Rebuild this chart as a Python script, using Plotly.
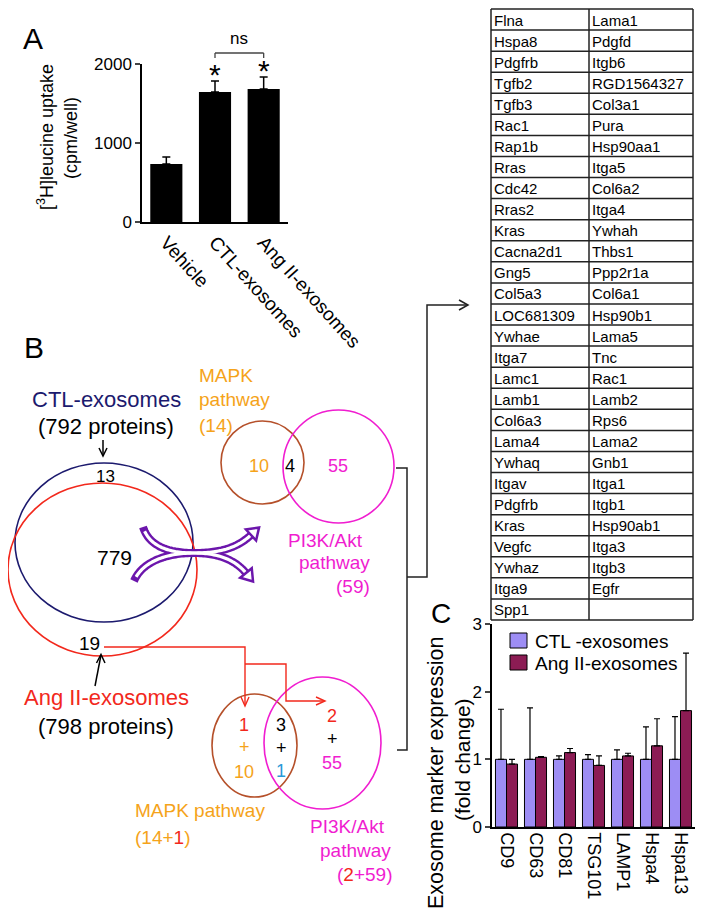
import numpy as np
import plotly.graph_objects as go

W, H = 704, 913
OX, OY = 8, 8   # page body margin: figure origin sits at (8, 8) on screen
FONT = "Arial, Liberation Sans, sans-serif"

# ---------------- Panel A data ----------------
a_groups = ["Vehicle", "CTL-exosomes", "Ang II-exosomes"]
a_means = [734, 1646, 1684]
a_err = [89, 139, 151]
a_ticks = [0, 1000, 2000]
a_sig = ["", "*", "*"]

# ---------------- Panel C data ----------------
c_markers = ["CD9", "CD63", "CD81", "TSG101", "LAMP1", "Hspa4", "Hspa13"]
c_ctl = [1.0, 1.0, 1.0, 1.0, 1.0, 1.0, 1.0]
c_ctl_err = [0.74, 0.76, 0.05, 0.07, 0.14, 0.48, 0.63]
c_ang = [0.93, 1.03, 1.10, 0.91, 1.05, 1.20, 1.72]
c_ang_err = [0.07, 0.01, 0.06, 0.14, 0.04, 0.40, 0.85]
c_ticks = [0, 1, 2, 3]
c_series = ["CTL -exosomes", "Ang II-exosomes"]

# ---------------- Table data ----------------
tbl_col1 = ["Flna", "Hspa8", "Pdgfrb", "Tgfb2", "Tgfb3", "Rac1", "Rap1b", "Rras",
            "Cdc42", "Rras2", "Kras", "Cacna2d1", "Gng5", "Col5a3", "LOC681309",
            "Ywhae", "Itga7", "Lamc1", "Lamb1", "Col6a3", "Lama4", "Ywhaq", "Itgav",
            "Pdgfrb", "Kras", "Vegfc", "Ywhaz", "Itga9", "Spp1"]
tbl_col2 = ["Lama1", "Pdgfd", "Itgb6", "RGD1564327", "Col3a1", "Pura", "Hsp90aa1",
            "Itga5", "Col6a2", "Itga4", "Ywhah", "Thbs1", "Ppp2r1a", "Col6a1",
            "Hsp90b1", "Lama5", "Tnc", "Rac1", "Lamb2", "Rps6", "Lama2", "Gnb1",
            "Itga1", "Itgb1", "Hsp90ab1", "Itga3", "Itgb3", "Egfr", ""]

# ---------------- Venn data ----------------
ctl_total = 792
ang_total = 798
ctl_only = 13
shared = 779
ang_only = 19
mapk_total = 14
pi3k_total = 59
mapk_only = 10
mapk_pi3k = 4
pi3k_only = 55
new_mapk = 1
new_pi3k = 2
new_both = 3
new_both_extra = 1

# colors
NAVY = "#1c1a6e"
RED = "#f2281c"
ORANGE = "#f5a31a"
BROWN = "#b5502a"
MAG = "#f01dd0"
BLUE = "#2a9ad8"
PURP = "#6c16ac"
CTL_C = "#9d8df4"
ANG_C = "#8c1c54"


def fx(sx):
    return (sx - OX) / W


def fy(sy):
    return 1 - (sy - OY) / H


fig = go.Figure()

# Panel A bars
fig.add_trace(go.Bar(
    x=a_groups, y=a_means, width=0.66,
    marker=dict(color="black", line=dict(width=0)),
    error_y=dict(type="data", array=a_err, arrayminus=[0] * len(a_err), symmetric=False,
                 color="black", thickness=1.5, width=4),
    xaxis="x", yaxis="y", showlegend=False, hoverinfo="skip"))

# Panel C bars
for name, vals, errs, col, og in [(c_series[0], c_ctl, c_ctl_err, CTL_C, "a"),
                                  (c_series[1], c_ang, c_ang_err, ANG_C, "b")]:
    fig.add_trace(go.Bar(
        x=c_markers, y=vals, name=name, showlegend=False,
        marker=dict(color=col, line=dict(color="black", width=1)),
        error_y=dict(type="data", array=errs, arrayminus=[0] * len(errs), symmetric=False,
                     color="black", thickness=1.2, width=3),
        xaxis="x2", yaxis="y2", offsetgroup=og, hoverinfo="skip"))

# overlay axis in screen-pixel units for the diagram
fig.add_trace(go.Scatter(x=[100], y=[100], mode="markers", marker=dict(opacity=0),
                         xaxis="x3", yaxis="y3", showlegend=False, hoverinfo="skip"))

shapes = []
ann = []


def txt(x, y, s, size, color="black", xanchor="center", **kw):
    ann.append(dict(x=x, y=y, xref="x3", yref="y3", text=s, showarrow=False,
                    xanchor=xanchor, yanchor=kw.pop("yanchor", "middle"),
                    font=dict(family=FONT, size=size, color=color), **kw))


def line_path(pts, color, width=1.5):
    d = "M " + " L ".join(f"{x:.2f},{y:.2f}" for x, y in pts)
    shapes.append(dict(type="path", path=d, xref="x3", yref="y3",
                       line=dict(color=color, width=width)))


def circle(x0, y0, x1, y1, color, width=1.6):
    shapes.append(dict(type="circle", x0=x0, y0=y0, x1=x1, y1=y1, xref="x3", yref="y3",
                       line=dict(color=color, width=width)))


# ---- Panel labels
txt(33, 38, "A", 30)
txt(34, 347, "B", 30)
txt(441, 613, "C", 28)

# ---- Panel A annotations
txt(45, 137, "[<sup>3</sup>H]leucine uptake", 18, textangle=-90)
txt(71, 138, "(cpm/well)", 18, textangle=-90)
for g, m, e, s in zip(a_groups, a_means, a_err, a_sig):
    if s:
        ann.append(dict(x=g, y=m + e, xref="x", yref="y", text=s, showarrow=False,
                        xanchor="center", yanchor="bottom", yshift=-12,
                        font=dict(family=FONT, size=30, color="black")))
ann.append(dict(x=1.5, y=fy(38), xref="x", yref="paper", text="ns", showarrow=False,
                xanchor="center", yanchor="middle", font=dict(family=FONT, size=17)))
yb, yt = fy(53), fy(58)
shapes.append(dict(type="line", x0=a_groups[1], x1=a_groups[2], y0=yb, y1=yb,
                   xref="x", yref="paper", line=dict(color="#444", width=1.3)))
for g in a_groups[1:]:
    shapes.append(dict(type="line", x0=g, x1=g, y0=yb, y1=yt,
                       xref="x", yref="paper", line=dict(color="#444", width=1.3)))

# ---- Panel C axis titles and legend
txt(436, 773, "Exosome marker expression", 21.5, textangle=-90)
txt(462, 760, "(fold change)", 21, textangle=-90)
for i, (name, col) in enumerate(zip(c_series, [CTL_C, ANG_C])):
    y0 = 633 + i * 22
    shapes.append(dict(type="rect", x0=510, x1=527, y0=y0, y1=y0 + 15, xref="x3", yref="y3",
                       fillcolor=col, line=dict(color="black", width=1)))
    txt(533, y0 + 8, name, 19, xanchor="left")

# ---- Table
t_left, t_mid, t_right, t_top = 491, 589, 693, 9
row_h = (620 - t_top) / len(tbl_col1)
n_rows = len(tbl_col1)
for i in range(n_rows + 1):
    y = t_top + i * row_h
    shapes.append(dict(type="line", x0=t_left, x1=t_right, y0=y, y1=y, xref="x3", yref="y3",
                       line=dict(color="#222", width=1.5)))
for x in (t_left, t_mid, t_right):
    shapes.append(dict(type="line", x0=x, x1=x, y0=t_top, y1=t_top + n_rows * row_h,
                       xref="x3", yref="y3", line=dict(color="#222", width=1.5)))
for i, (a, b) in enumerate(zip(tbl_col1, tbl_col2)):
    yc = t_top + (i + 0.5) * row_h + 0.5
    txt(t_left + 1, yc, a, 15, xanchor="left")
    if b:
        txt(t_mid + 1, yc, b, 15, xanchor="left")

# ---- Venn: CTL vs Ang II
circle(15, 463, 193, 622, NAVY)
circle(8, 483, 197, 656, RED)
txt(106, 399, "CTL-exosomes", 22, NAVY)
txt(106, 426, f"({ctl_total} proteins)", 22)
line_path([(103, 440), (103, 456)], "black", 1.5)
line_path([(99, 448), (103, 456), (107, 448)], "black", 1.5)
txt(105, 476, str(ctl_only), 17)
txt(114, 557, str(shared), 21)
txt(89, 643, str(ang_only), 19)
line_path([(95, 686), (101, 655)], "black", 1.5)
line_path([(96.5, 663), (101, 654.5), (105, 663)], "black", 1.5)
txt(106, 697, "Ang II-exosomes", 22, RED)
txt(106, 726, f"({ang_total} proteins)", 22)

# ---- Venn top: MAPK / PI3K
circle(221, 421, 304, 504, BROWN)
circle(283, 410, 394, 523, MAG)
txt(197, 375, "MAPK", 19, ORANGE, xanchor="left")
txt(197, 399, "pathway", 19, ORANGE, xanchor="left")
txt(197, 425, f"({mapk_total})", 19, ORANGE, xanchor="left")
txt(259, 466, str(mapk_only), 18, ORANGE)
txt(290, 466, str(mapk_pi3k), 18)
txt(338, 466, str(pi3k_only), 18, MAG)
txt(365, 540, "PI3K/Akt", 19, MAG, xanchor="right")
txt(372, 562, "pathway", 19, MAG, xanchor="right")
txt(372, 586, f"({pi3k_total})", 19, MAG, xanchor="right")

# ---- Venn bottom
circle(212, 694, 297, 797, BROWN)
circle(264, 677, 381, 809, MAG)
txt(244, 725, str(new_mapk), 18, RED)
txt(244, 747, "+", 18, ORANGE)
txt(244, 772, str(mapk_only), 18, ORANGE)
txt(281, 725, str(new_both), 18)
txt(281, 748, "+", 18)
txt(281, 771, str(new_both_extra), 18, BLUE)
txt(332, 716, str(new_pi3k), 18, RED)
txt(332, 739, "+", 18)
txt(332, 763, str(pi3k_only), 18, MAG)
txt(133, 810, "MAPK pathway", 19, ORANGE, xanchor="left")
txt(133, 837, f"({mapk_total}+<span style='color:{RED}'>{new_mapk}</span>)", 19, ORANGE,
    xanchor="left")
txt(387, 826, "PI3K/Akt", 19, MAG, xanchor="right")
txt(393, 850, "pathway", 19, MAG, xanchor="right")
txt(394, 874, f"(<span style='color:{RED}'>{new_pi3k}</span>+{pi3k_total})", 19, MAG,
    xanchor="right")

# red connector arrows
line_path([(104, 647), (245, 647), (245, 705)], RED, 1.4)
line_path([(241, 697), (245, 706), (249, 697)], RED, 1.4)
line_path([(245, 664), (286, 664), (286, 701), (324, 701)], RED, 1.4)
line_path([(316, 697), (325, 701), (316, 705)], RED, 1.4)

# black bracket to table
line_path([(396, 468), (407, 468), (407, 750), (397, 750)], "#222", 1.5)
line_path([(407, 577), (427, 577), (427, 305), (467, 305)], "#222", 1.5)
line_path([(459, 300), (468, 305), (459, 310)], "#222", 1.5)


# ---- purple hollow curved arrows
def bez(p0, p1, p2, p3, n=40):
    t = np.linspace(0, 1, n)[:, None]
    p0, p1, p2, p3 = map(np.array, (p0, p1, p2, p3))
    return ((1 - t) ** 3) * p0 + 3 * ((1 - t) ** 2) * t * p1 + 3 * (1 - t) * t ** 2 * p2 + t ** 3 * p3


branches = [
    ((143, 527), (149, 546), (168, 553), (194, 553), "tail"),
    ((134, 581), (142, 562), (166, 553), (194, 553), "tail"),
    ((194, 553), (222, 553), (238, 547), (251, 535), "head"),
    ((194, 553), (220, 553), (236, 561), (246, 573), "head"),
]
for p0, p1, p2, p3, kind in branches:
    line_path(bez(p0, p1, p2, p3), PURP, 8)
for p0, p1, p2, p3, kind in branches:
    pts = bez(p0, p1, p2, p3)
    inner = pts[3:] if kind == "tail" else pts
    line_path(inner, "white", 3.2)
for p0, p1, p2, p3, kind in branches:
    if kind == "head":
        d = np.array(p3, float) - np.array(p2, float)
        d /= np.linalg.norm(d)
        perp = np.array([-d[1], d[0]])
        end = np.array(p3, float)
        tip = end + 11 * d
        c1 = end + 7.5 * perp
        c2 = end - 7.5 * perp
        path = f"M {c1[0]:.2f},{c1[1]:.2f} L {tip[0]:.2f},{tip[1]:.2f} L {c2[0]:.2f},{c2[1]:.2f} Z"
        shapes.append(dict(type="path", path=path, xref="x3", yref="y3",
                           fillcolor="white", line=dict(color=PURP, width=2.5)))

fig.update_layout(
    width=W, height=H, margin=dict(l=0, r=0, t=0, b=0, autoexpand=False),
    paper_bgcolor="white", plot_bgcolor="rgba(0,0,0,0)",
    font=dict(family=FONT, color="black"),
    barmode="group", bargap=0.24, bargroupgap=0,
    showlegend=False,
    xaxis=dict(domain=[fx(142), fx(288)], range=[-0.5, 2.5], anchor="y",
               showline=True, linecolor="black", linewidth=1.5, ticks="",
               tickangle=48, tickfont=dict(size=19), showgrid=False, zeroline=False),
    yaxis=dict(domain=[fy(222), fy(64)], range=[0, 2000], anchor="x",
               tickvals=a_ticks, ticks="outside", ticklen=5, tickwidth=1.5,
               showline=True, linecolor="black", linewidth=1.5, showgrid=False,
               zeroline=False, tickfont=dict(size=17)),
    xaxis2=dict(domain=[fx(492), fx(695)], range=[-0.5, 6.5], anchor="y2",
                showline=True, linecolor="black", linewidth=1.5, ticks="",
                tickangle=90, tickfont=dict(size=18), showgrid=False, zeroline=False),
    yaxis2=dict(domain=[fy(827), fy(624)], range=[0, 3], anchor="x2",
                tickvals=c_ticks, ticks="outside", ticklen=5, tickwidth=1.5,
                showline=True, linecolor="black", linewidth=1.5, showgrid=False,
                zeroline=False, tickfont=dict(size=17)),
    xaxis3=dict(domain=[0, 1], range=[OX, OX + W], anchor="y3", visible=False, fixedrange=True),
    yaxis3=dict(domain=[0, 1], range=[OY + H, OY], anchor="x3", visible=False, fixedrange=True),
    shapes=shapes, annotations=ann,
)

fig.write_html("out.html")
